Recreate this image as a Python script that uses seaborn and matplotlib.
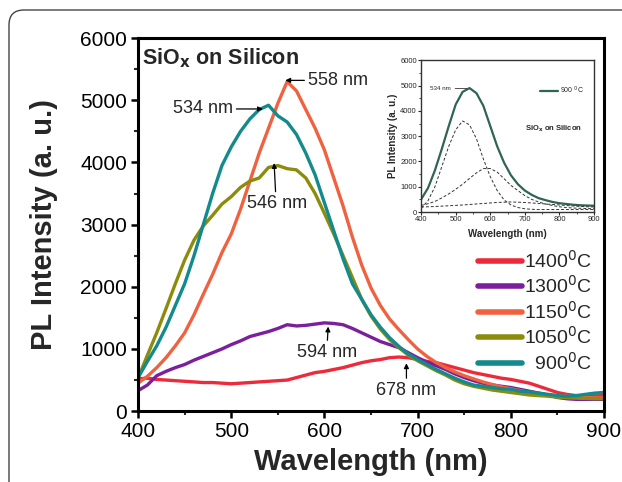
import numpy as np
import pandas as pd
import matplotlib
matplotlib.use("Agg")
import matplotlib.pyplot as plt
from matplotlib.patches import FancyBboxPatch
from matplotlib.ticker import MultipleLocator
import seaborn as sns

# wavelength grid (nm) for the main spectra
wl = list(range(400, 901, 10))

pl_1400 = [520, 530, 510, 500, 490, 480, 470, 460, 460, 450, 440, 450, 460, 470, 480, 490, 500, 540,
           580, 620, 640, 670, 700, 740, 780, 810, 830, 860, 870, 860, 830, 800, 780, 740, 700, 660,
           620, 590, 560, 530, 510, 480, 450, 400, 350, 300, 270, 250, 240, 245, 250]
pl_1300 = [330, 420, 570, 640, 700, 750, 820, 880, 940, 1000, 1070, 1130, 1200, 1240, 1280, 1330, 1390,
           1370, 1380, 1400, 1420, 1410, 1390, 1330, 1260, 1190, 1120, 1070, 1020, 940, 860, 790, 730,
           670, 600, 540, 490, 450, 420, 400, 380, 350, 320, 290, 260, 220, 200, 190, 190, 190, 190]
pl_1150 = [450, 560, 700, 860, 1050, 1260, 1550, 1880, 2200, 2550, 2850, 3250, 3700, 4150, 4550, 4950,
           5300, 5150, 4850, 4550, 4200, 3750, 3300, 2800, 2350, 1980, 1700, 1480, 1310, 1150, 1000, 880,
           780, 700, 630, 570, 520, 470, 430, 390, 360, 330, 300, 280, 260, 250, 240, 230, 220, 215, 210]
pl_1050 = [530, 900, 1260, 1650, 2050, 2430, 2750, 2980, 3150, 3330, 3450, 3600, 3700, 3750, 3920, 3950,
           3900, 3880, 3750, 3500, 3180, 2850, 2500, 2150, 1800, 1530, 1320, 1150, 1020, 900, 810, 730,
           650, 580, 500, 440, 400, 370, 340, 320, 300, 280, 260, 250, 240, 225, 215, 210, 205, 200, 200]
pl_900 = [540, 800, 1050, 1350, 1700, 2050, 2500, 3000, 3500, 3950, 4250, 4500, 4700, 4850, 4920, 4750,
          4650, 4450, 4150, 3800, 3350, 2900, 2450, 2050, 1800, 1550, 1350, 1180, 1040, 920, 830, 750,
          670, 600, 530, 470, 420, 400, 380, 360, 350, 320, 310, 290, 270, 250, 240, 250, 270, 290, 300]

labels = ["1400$^0$C", "1300$^0$C", "1150$^0$C", "1050$^0$C", "  900$^0$C"]
colors = ["#ee2a3a", "#7b1f9c", "#f0623f", "#8c8c0c", "#138a8c"]
series = [pl_1400, pl_1300, pl_1150, pl_1050, pl_900]

# inset: 900 C spectrum and its fitted components
wl_in = list(range(400, 901, 20))
in_total = [500, 950, 1650, 2500, 3400, 4250, 4750, 4900, 4700, 4200, 3400, 2600, 1950, 1450, 1100, 850,
            680, 550, 470, 400, 350, 320, 290, 270, 260, 250]
in_fit1 = [150, 450, 1000, 1800, 2600, 3250, 3600, 3450, 2900, 2100, 1400, 850, 480, 280, 180, 130,
           110, 100, 100, 100, 100, 100, 100, 100, 100, 100]
in_fit2 = [260, 330, 420, 560, 720, 900, 1100, 1330, 1550, 1720, 1720, 1580, 1320, 1050, 850, 650,
           500, 400, 320, 260, 210, 180, 160, 150, 140, 130]
in_fit3 = [200, 210, 220, 235, 250, 265, 280, 300, 320, 340, 360, 380, 390, 400, 390, 380,
           360, 340, 320, 300, 280, 260, 240, 225, 210, 200]

rows = []
for lab, vals in zip(labels, series):
    for w, v in zip(wl, vals):
        rows.append({"wl": w, "pl": v, "T": lab})
df = pd.DataFrame(rows)

sns.set_theme(style="ticks")
plt.rcParams["font.family"] = ["Liberation Sans", "DejaVu Sans"]

fig = plt.figure(figsize=(6.22, 4.82), dpi=100)
ax = fig.add_axes([0.222, 0.147, 0.749, 0.774])

sns.lineplot(data=df, x="wl", y="pl", hue="T", hue_order=labels, palette=colors,
             linewidth=2.4, ax=ax)

ax.set_xlim(400, 900)
ax.set_ylim(0, 6000)
ax.xaxis.set_major_locator(MultipleLocator(100))
ax.xaxis.set_minor_locator(MultipleLocator(50))
ax.yaxis.set_major_locator(MultipleLocator(1000))
ax.yaxis.set_minor_locator(MultipleLocator(500))
ax.tick_params(which="major", direction="out", length=5, width=1.8, labelsize=15, pad=3, colors="black")
ax.tick_params(which="minor", direction="out", length=3, width=1.5)
for s in ax.spines.values():
    s.set_linewidth(2.2)
    s.set_color("black")
ax.set_xlabel("Wavelength (nm)", fontsize=21, fontweight="bold", labelpad=5)
ax.set_ylabel("PL Intensity (a. u.)", fontsize=21, fontweight="bold", labelpad=16)

leg = ax.legend(loc="lower right", bbox_to_anchor=(1.0, 0.07), frameon=False, fontsize=14,
                handlelength=2.3, handletextpad=0.1, labelspacing=0.18, borderaxespad=0.2)
for h in leg.get_lines():
    h.set_linewidth(4)

ax.text(0.008, 0.978, "SiO$_\\mathbf{x}$ on Silicon", transform=ax.transAxes, fontsize=15.5,
        fontweight="bold", va="top", ha="left")

arw = dict(arrowstyle="-|>", color="black", lw=0.9, mutation_scale=7, shrinkA=0, shrinkB=0)
ax.annotate("558 nm", xy=(558, 5320), xytext=(582, 5320), fontsize=13, va="center", ha="left",
            arrowprops=arw)
ax.annotate("534 nm", xy=(534, 4860), xytext=(502, 4860), fontsize=13, va="center", ha="right",
            arrowprops=arw)
ax.annotate("546 nm", xy=(546, 3990), xytext=(549, 3340), fontsize=13, va="center", ha="center",
            arrowprops=dict(arw, relpos=(0.48, 1.0)))
ax.annotate("594 nm", xy=(604, 1360), xytext=(603, 950), fontsize=13, va="center", ha="center",
            arrowprops=dict(arw, relpos=(0.5, 1.0)))
ax.annotate("678 nm", xy=(688, 770), xytext=(688, 340), fontsize=13, va="center", ha="center",
            arrowprops=dict(arw, relpos=(0.5, 1.0)))

# inset
ins = fig.add_axes([0.677, 0.560, 0.278, 0.315])
ins.plot(wl_in, in_total, color="#2f6456", lw=1.6, label="900 $^0$C")
for f in (in_fit1, in_fit2, in_fit3):
    ins.plot(wl_in, f, color="#333333", lw=0.7, ls=(0, (3, 2)))
ins.set_xlim(400, 900)
ins.set_ylim(0, 6000)
ins.xaxis.set_major_locator(MultipleLocator(100))
ins.xaxis.set_minor_locator(MultipleLocator(50))
ins.yaxis.set_major_locator(MultipleLocator(1000))
ins.yaxis.set_minor_locator(MultipleLocator(500))
ins.tick_params(which="major", direction="out", length=2, width=0.8, labelsize=5.5, pad=1)
ins.tick_params(which="minor", direction="out", length=1.2, width=0.6)
for s in ins.spines.values():
    s.set_linewidth(1.0)
    s.set_color("#333333")
ins.set_xlabel("Wavelength (nm)", fontsize=7, fontweight="bold", labelpad=4)
ins.set_ylabel("PL Intensity (a. u.)", fontsize=7, fontweight="bold", labelpad=2)
il = ins.legend(loc="upper right", bbox_to_anchor=(0.98, 0.88), frameon=False, fontsize=5,
                handlelength=2.5, handletextpad=0.4)
ins.text(0.93, 0.55, "SiO$_\\mathbf{x}$ on Silicon", transform=ins.transAxes, fontsize=5.5,
         fontweight="bold", ha="right", va="center")
ins.annotate("534 nm", xy=(532, 4880), xytext=(485, 4880), fontsize=4.5, va="center", ha="right",
             arrowprops=dict(arrowstyle="-", color="#333333", lw=0.6, shrinkA=1, shrinkB=0))

# rounded frame around the whole panel
frame = FancyBboxPatch((0.09, -0.4), 6.6, 4.82 - 0.10 + 0.4,
                       boxstyle="round,pad=0,rounding_size=0.15",
                       transform=fig.dpi_scale_trans, fill=False, ec="#444444", lw=1.0)
fig.patches.append(frame)

fig.savefig("out.png", dpi=100)
